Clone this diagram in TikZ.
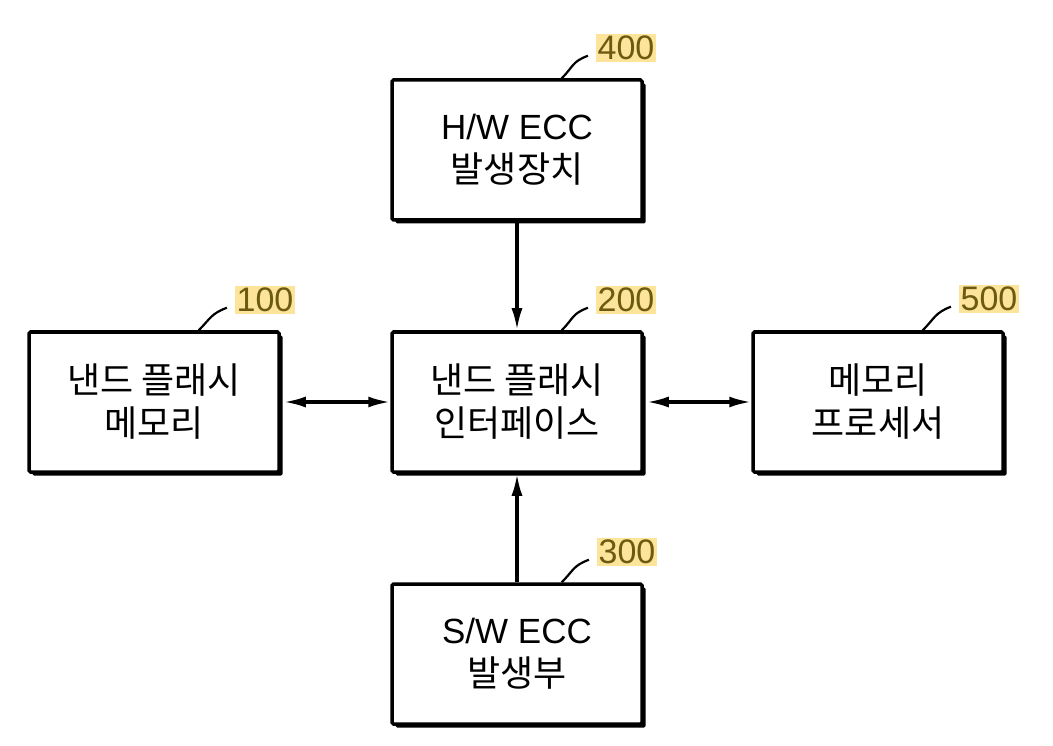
\documentclass[tikz,border=0pt]{standalone}
\usepackage{fontspec}
\setmainfont{Liberation Sans}
\newfontfamily\krf{Noto Sans CJK KR}
\newcommand{\kr}{\krf\fontsize{36pt}{43pt}\selectfont}
\usetikzlibrary{arrows.meta}
\definecolor{hl}{HTML}{FCE49A}
\definecolor{lt}{HTML}{6B5A10}
\tikzset{
  blk/.style={draw=black, line width=3.5pt, fill=white, rounded corners=1.5pt,
    minimum width=250pt, minimum height=140pt, inner sep=0pt,
    align=center, font=\fontsize{35pt}{43pt}\selectfont,
    preaction={fill=black, transform canvas={shift={(3.5pt,-3.5pt)}}}},
  lbl/.style={fill=hl, text=lt, inner sep=1.5pt, font=\fontsize{34pt}{34pt}\selectfont},
  lead/.style={line width=2.2pt},
  conn/.style={line width=3.2pt, -{Latex[length=22pt,width=11pt]}},
  bconn/.style={line width=3.2pt, {Latex[length=22pt,width=11pt]}-{Latex[length=22pt,width=11pt]}}
}
\begin{document}
\begin{tikzpicture}[x=1pt,y=-1pt]
\useasboundingbox (0,0) rectangle (1053,746);
\node[blk] (b400) at (517,150) {H/W ECC\\{\kr 발생장치}};
\node[blk] (b100) at (154,402) {\kr 낸드 플래시\\\kr 메모리};
\node[blk] (b200) at (517,402) {\kr 낸드 플래시\\\kr 인터페이스};
\node[blk] (b500) at (878,402) {\kr 메모리\\\kr 프로세서};
\node[blk] (b300) at (517,654) {S/W ECC\\{\kr 발생부}};

\node[lbl] (l400) at (626,48) {400};
\node[lbl] (l100) at (265,300) {100};
\node[lbl] (l200) at (626,300) {200};
\node[lbl] (l500) at (989,299) {500};
\node[lbl] (l300) at (627,552) {300};

\foreach \b/\l in {b400/l400,b100/l100,b200/l200,b500/l500,b300/l300}{
  \draw[lead] ([xshift=-82pt]\b.north east) .. controls +(12,-12) and +(-16,6) .. ([xshift=-8pt,yshift=6pt]\l.south west);
}

\draw[conn] (b400.south) -- (b200.north);
\draw[conn] (b300.north) -- (b200.south);
\draw[bconn] ([xshift=3pt]b100.east) -- (b200.west);
\draw[bconn] ([xshift=3pt]b200.east) -- (b500.west);
\end{tikzpicture}
\end{document}
